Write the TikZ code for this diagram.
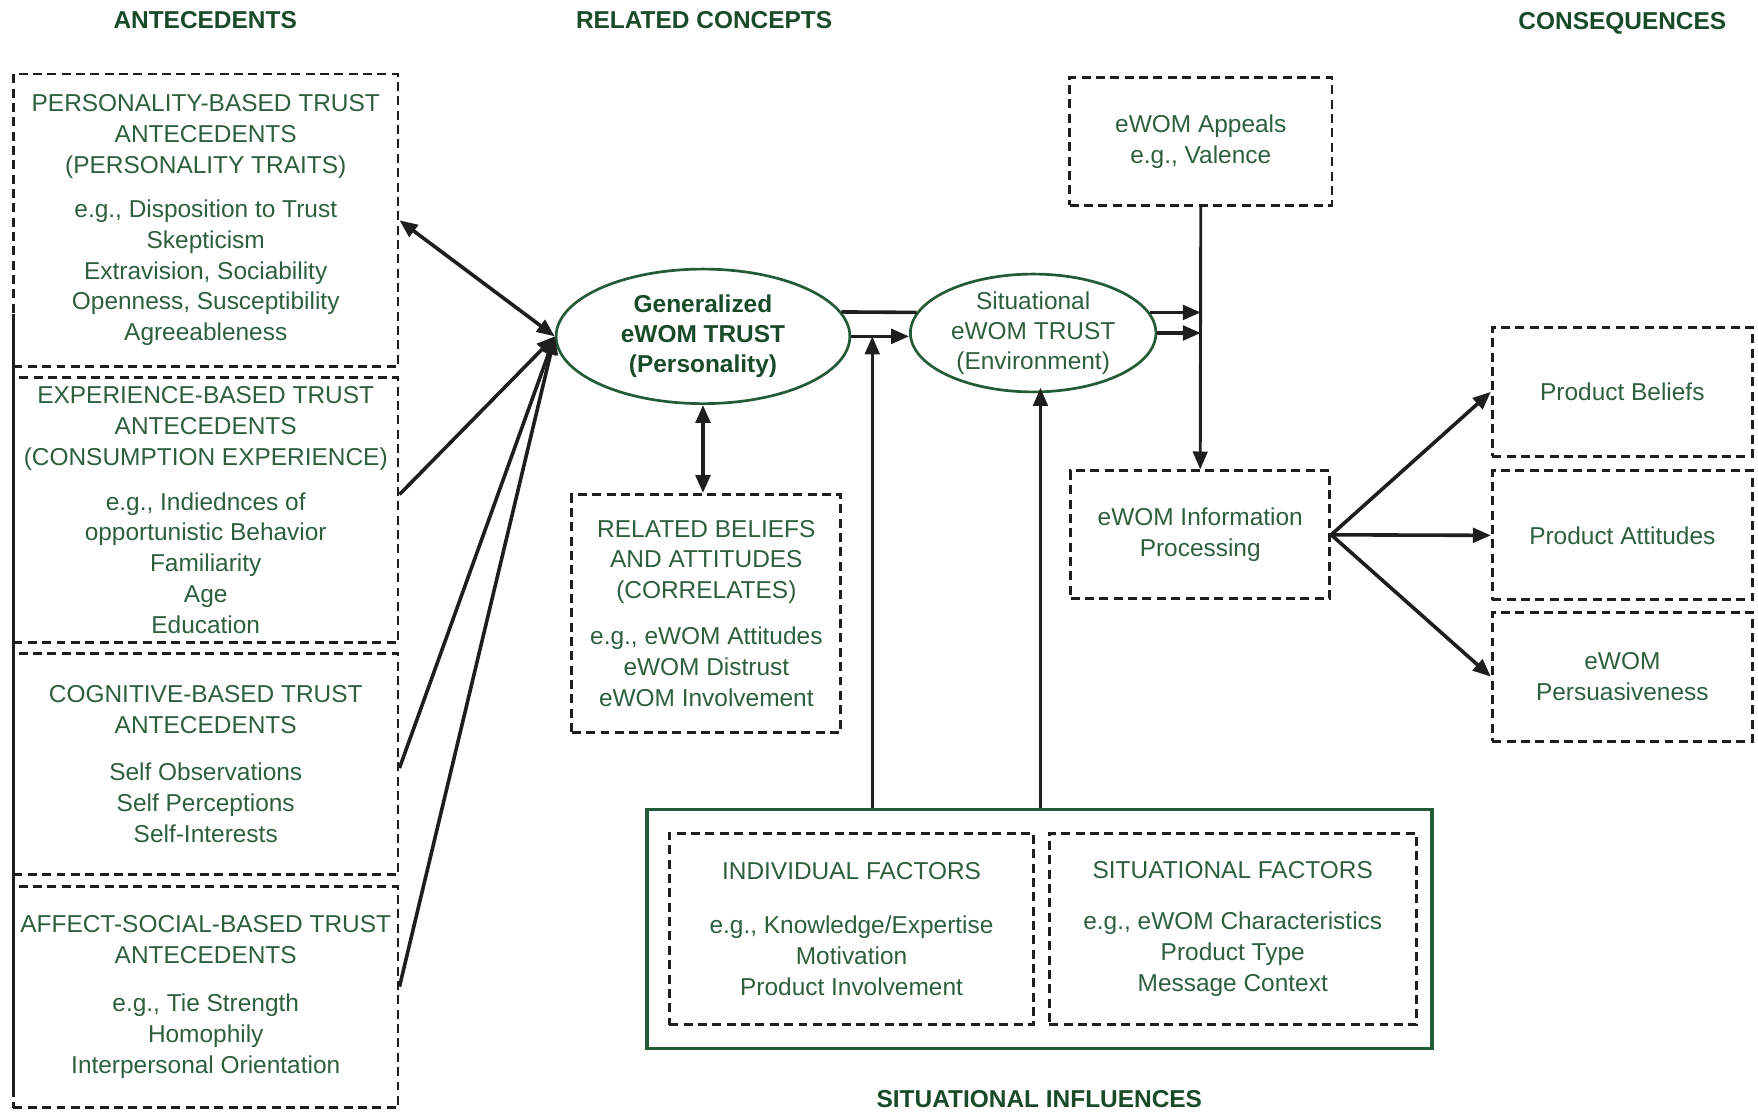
\documentclass[tikz,border=0pt]{standalone}
\usepackage{fontspec}
\setmainfont{Liberation Sans}
\usetikzlibrary{arrows.meta,shapes.geometric}
\definecolor{txtgreen}{RGB}{45,95,62}
\definecolor{headgreen}{RGB}{25,75,42}
\definecolor{lgreen}{RGB}{35,90,55}
\definecolor{lblack}{RGB}{30,30,30}
\tikzset{
  base/.style={font=\fontsize{10.9}{13.75}\selectfont, text=txtgreen, align=center, inner sep=0pt},
  head/.style={font=\fontsize{10.9}{13.75}\selectfont\bfseries, text=headgreen, inner sep=0pt},
  dbox/.style={base, draw=lblack, line width=1.3pt, dash pattern=on 4pt off 2.4pt, rectangle},
  ell/.style={base, ellipse, draw=lgreen, line width=1.2pt},
  conn/.style={draw=lblack, line width=1.6pt},
  arr/.style={conn, -{Triangle[length=8pt,width=6.5pt]}},
  darr/.style={conn, {Triangle[length=8pt,width=6.5pt]}-{Triangle[length=8pt,width=6.5pt]}},
}
\begin{document}
\begin{tikzpicture}[x=0.5pt,y=-0.5pt]
\useasboundingbox (0,0) rectangle (1568,991);
% headers
\node[head] (h1) at (183,18) {ANTECEDENTS};
\node[head] (h2) at (628,18) {RELATED CONCEPTS};
\node[head] (h3) at (1447,21) {CONSEQUENCES};
\node[head] (h4) at (927,980) {SITUATIONAL INFLUENCES};
% left solid edge
\draw[lblack, line width=1pt] (12,280) -- (12,975);
% antecedent boxes
\node[dbox, minimum width=171.5pt, minimum height=130.5pt] (b1) at (183.5,196.5)
  {PERSONALITY-BASED TRUST\\ANTECEDENTS\\(PERSONALITY TRAITS)\\[5.75pt]
   e.g., Disposition to Trust\\Skepticism\\Extravision, Sociability\\Openness, Susceptibility\\Agreeableness};
\node[dbox, minimum width=171.5pt, minimum height=118pt] (b2) at (183.5,455)
  {EXPERIENCE-BASED TRUST\\ANTECEDENTS\\(CONSUMPTION EXPERIENCE)\\[6.25pt]
   e.g., Indiednces of\\opportunistic Behavior\\Familiarity\\Age\\Education};
\node[dbox, minimum width=171.5pt, minimum height=98.5pt] (b3) at (183.5,681.5)
  {COGNITIVE-BASED TRUST\\ANTECEDENTS\\[7.25pt]
   Self Observations\\Self Perceptions\\Self-Interests};
\node[dbox, minimum width=171.5pt, minimum height=98.5pt] (b4) at (183.5,889.5)
  {AFFECT-SOCIAL-BASED TRUST\\ANTECEDENTS\\[7.75pt]
   e.g., Tie Strength\\Homophily\\Interpersonal Orientation};
% ellipses
\node[ell, minimum width=131pt, minimum height=60pt, font=\fontsize{10.9}{13.5}\selectfont\bfseries, text=headgreen] (gen) at (627,300)
  {Generalized\\eWOM TRUST\\(Personality)};
\node[ell, minimum width=109.5pt, minimum height=48.5pt, font=\fontsize{10.9}{13.5}\selectfont] (sit) at (921.5,297)
  {Situational\\eWOM TRUST\\(Environment)};
% related
\node[dbox, minimum width=120pt, minimum height=106pt] (rel) at (630,547)
  {RELATED BELIEFS\\AND ATTITUDES\\(CORRELATES)\\[6.75pt]
   e.g., eWOM Attitudes\\eWOM Distrust\\eWOM Involvement};
% right column
\node[dbox, minimum width=117pt, minimum height=57pt] (app) at (1071,126)
  {eWOM Appeals\\e.g., Valence};
\node[dbox, minimum width=115.5pt, minimum height=57pt] (info) at (1070.5,477)
  {eWOM Information\\Processing};
\node[dbox, minimum width=116pt, minimum height=57.5pt] (pb) at (1447,349.5) {Product Beliefs};
\node[dbox, minimum width=116pt, minimum height=57.5pt] (pa) at (1447,477.5) {Product Attitudes};
\node[dbox, minimum width=116pt, minimum height=57.5pt] (pp) at (1447,603.5) {eWOM\\Persuasiveness};
% situational influences
\node[draw=lgreen, line width=1.6pt, minimum width=350pt, minimum height=106.5pt, inner sep=0pt] (outer) at (927,828.5) {};
\node[dbox, minimum width=162.5pt, minimum height=85.5pt] (ind) at (759.5,828.5)
  {INDIVIDUAL FACTORS\\[10.75pt]
   e.g., Knowledge/Expertise\\Motivation\\Product Involvement};
\node[dbox, minimum width=163.5pt, minimum height=85.5pt] (sf) at (1099.5,828.5)
  {SITUATIONAL FACTORS\\[9.25pt]
   e.g., eWOM Characteristics\\Product Type\\Message Context};
% connectors: antecedents to generalized
\draw[darr] (b1.east) -- (gen.west);
\draw[arr] ([yshift=7pt]b2.east) -- (gen.west);
\draw[arr] ([yshift=-1.75pt]b3.east) -- (gen.west);
\draw[arr] ([yshift=4.75pt]b4.east) -- (gen.west);
\draw[darr] (gen.south) -- (gen.south |- rel.north);
% generalized to situational
\draw[conn] (gen.10) -- (sit.170);
\coordinate (j1) at (778,300);
\draw[arr] (gen.east) -- (gen.east -| sit.west);
\draw[arr, line width=1.3pt] (outer.north -| j1) -- (j1);
\coordinate (j2) at (928,346);
\draw[arr, line width=1.3pt] (outer.north -| j2) -- (j2);
% situational to processing line
\draw[arr] (sit.10) -- (sit.10 -| app.south);
\draw[arr] (sit.east) -- (sit.east -| app.south);
\draw[arr, line width=1.3pt] (app.south) -- (info.north);
% consequences
\draw[arr] (info.east) -- (pb.west);
\draw[arr] (info.east) -- (pa.west);
\draw[arr] (info.east) -- (pp.west);
\end{tikzpicture}
\end{document}
